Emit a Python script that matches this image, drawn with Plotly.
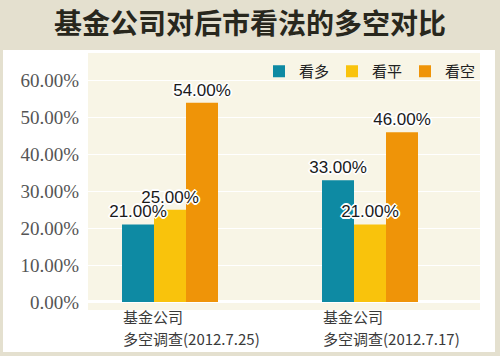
import plotly.graph_objects as go

# ---- data ----
cat_line1 = ["基金公司", "基金公司"]
cat_line2 = ["多空调查(2012.7.25)", "多空调查(2012.7.17)"]
series_names = ["看多", "看平", "看空"]
bull = [0.21, 0.33]
flat = [0.25, 0.21]
bear = [0.54, 0.46]
y_ticks = [0.0, 0.1, 0.2, 0.3, 0.4, 0.5, 0.6]
title_text = "基金公司对后市看法的多空对比"

colors = ["#0e8aa3", "#f9c30c", "#ef9408"]
series_values = [bull, flat, bear]

W, H = 500, 356
L, R, T, B = 88, 20, 53, 46
pw, ph = W - L - R, H - T - B

x_idx = list(range(len(cat_line1)))


def px2paper_x(p):
    return (p - L) / pw


def py2paper_y(p):
    return (H - B - p) / ph


fig = go.Figure()
# bars
for k, (name, vals, col) in enumerate(zip(series_names, series_values, colors)):
    fig.add_trace(go.Bar(
        x=x_idx, y=vals, name=name, offsetgroup=str(k),
        marker=dict(color=col, line=dict(width=0)),
        hoverinfo="skip",
    ))
# value labels drawn on top of every bar (transparent copies in same offset groups)
for k, (name, vals) in enumerate(zip(series_names, series_values)):
    fig.add_trace(go.Bar(
        x=x_idx, y=vals, name=name, offsetgroup=str(k), showlegend=False,
        marker=dict(color="rgba(0,0,0,0)", line=dict(width=0)),
        text=[f"{v*100:.2f}%" for v in vals],
        textposition="outside", cliponaxis=False, constraintext="none",
        textfont=dict(family="Liberation Sans", size=17, color="#1a1a1a",
                      shadow="-1px -1px 0 #fff, 1px -1px 0 #fff, -1px 1px 0 #fff, 1px 1px 0 #fff, 0 2px 0 #fff, 0 -2px 0 #fff, 2px 0 0 #fff, -2px 0 0 #fff"),
        hoverinfo="skip",
    ))

# white panel and cream plot area (decoration)
fig.add_shape(type="rect", xref="paper", yref="paper",
              x0=px2paper_x(3), x1=px2paper_x(495), y0=py2paper_y(352), y1=py2paper_y(50),
              fillcolor="#ffffff", line=dict(width=0), layer="below")
fig.add_shape(type="rect", xref="paper", yref="paper",
              x0=0, x1=1, y0=0, y1=1,
              fillcolor="#f8f5e6", line=dict(width=0), layer="below")

# category labels (left-aligned under each group)
for i, (l1, l2) in enumerate(zip(cat_line1, cat_line2)):
    fig.add_annotation(x=i - 0.245, y=py2paper_y(316), xref="x", yref="paper",
                       text=l1, showarrow=False, xanchor="left", yanchor="middle",
                       font=dict(family="Noto Sans CJK SC", size=15, color="#3a3a3a"))
    fig.add_annotation(x=i - 0.245, y=py2paper_y(338), xref="x", yref="paper",
                       text=l2, showarrow=False, xanchor="left", yanchor="middle",
                       font=dict(family="Noto Sans CJK SC", size=15, color="#3a3a3a"))

fig.update_layout(
    width=W, height=H,
    margin=dict(l=L, r=R, t=T, b=B, pad=0),
    paper_bgcolor="#e4e0cf",
    plot_bgcolor="#f8f5e6",
    barmode="group", bargap=0.52, bargroupgap=0,
    title=dict(text=title_text, x=0.5, xanchor="center", xref="container",
               y=(H - 24) / H, yanchor="middle", yref="container",
               font=dict(family="Noto Sans CJK SC", size=28, color="#28271d", weight="bold")),
    legend=dict(orientation="h", x=px2paper_x(478), xanchor="right", y=py2paper_y(55), yanchor="top",
                bgcolor="rgba(0,0,0,0)", font=dict(family="Noto Sans CJK SC", size=15, color="#222"),
                itemwidth=30, traceorder="normal", entrywidth=28),
    xaxis=dict(range=[-0.41, 1.55], tickvals=[], showgrid=False, zeroline=False,
               showline=False, fixedrange=True),
    yaxis=dict(range=[-0.022, 0.675], tickvals=y_ticks, tickformat=".2%",
               tickfont=dict(family="Liberation Serif", size=19, color="#555555"),
               ticklabelstandoff=8,
               showgrid=True, gridcolor="#ffffff", gridwidth=1,
               zeroline=True, zerolinecolor="#ffffff", zerolinewidth=3,
               showline=False, fixedrange=True),
    showlegend=True,
)

fig.write_html("out.html", config={"displayModeBar": False},
               post_script="document.body.style.margin='0';")
